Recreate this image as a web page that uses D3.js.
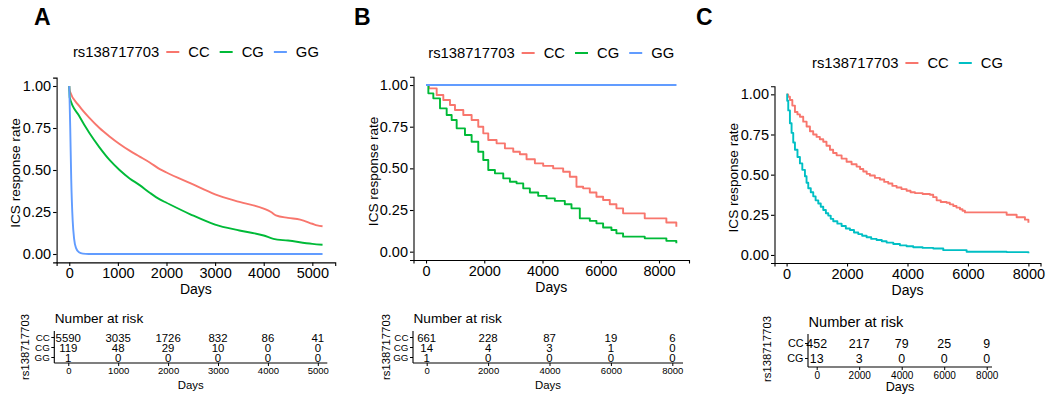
<!DOCTYPE html>
<html><head><meta charset="utf-8">
<script src="https://cdn.jsdelivr.net/npm/d3@7"></script>
<style>body{margin:0;background:#fff} text{font-family:"Liberation Sans",Arial,sans-serif;fill:#000}</style>
</head><body><svg id="c" width="1050" height="400"></svg>
<script>
// ---------------- DATA ----------------
const snpName = "rs138717703";

// Panel A survival curves [days, rate]
const A_CC = [[0,1],[10,0.97],[207,0.88],[414,0.81],[621,0.75],[828,0.70],[1034,0.655],[1241,0.615],[1448,0.58],[1655,0.545],[1862,0.505],[2000,0.485],[2500,0.42],[3000,0.355],[3500,0.31],[4000,0.27],[4150,0.25],[4250,0.23],[4500,0.215],[4750,0.205],[5000,0.18],[5100,0.17],[5210,0.165]];
const A_CG = [[0,1],[10,0.93],[207,0.82],[414,0.72],[621,0.635],[828,0.56],[1034,0.50],[1241,0.45],[1448,0.41],[1655,0.365],[1862,0.325],[2000,0.305],[2500,0.235],[3000,0.175],[3500,0.14],[4000,0.11],[4200,0.09],[4500,0.08],[5000,0.06],[5210,0.055]];
const A_GG = [[0,1],[20,0.75],[40,0.45],[70,0.2],[100,0.09],[140,0.035],[200,0.01],[280,0.002],[400,0],[5210,0]];

// Panel B
const B_CC = [[0,1],[100,0.98],[366,0.94],[594,0.91],[823,0.88],[994,0.85],[1280,0.82],[1566,0.79],[1794,0.75],[1966,0.71],[2137,0.67],[2423,0.65],[2709,0.62],[2995,0.60],[3223,0.585],[3452,0.555],[3738,0.53],[4023,0.515],[4366,0.50],[4709,0.48],[4938,0.45],[5166,0.39],[5395,0.38],[5624,0.355],[5852,0.33],[6081,0.31],[6310,0.285],[6538,0.26],[6767,0.23],[7510,0.20],[8253,0.175],[8595,0.15]];
const B_CG = [[0,1],[80,0.95],[251,0.92],[480,0.86],[709,0.82],[880,0.79],[1052,0.74],[1337,0.70],[1566,0.66],[1794,0.60],[1966,0.55],[2137,0.49],[2366,0.47],[2652,0.44],[2880,0.42],[3109,0.41],[3338,0.38],[3566,0.355],[3852,0.335],[4138,0.32],[4423,0.305],[4766,0.285],[4995,0.26],[5281,0.20],[5624,0.185],[5852,0.17],[6081,0.145],[6367,0.13],[6538,0.11],[6767,0.09],[7510,0.08],[8253,0.065],[8595,0.05]];
const B_GG = [[0,1],[8600,1]];

// Panel C
const C_CC = [[0,1],[50,0.985],[110,0.965],[190,0.93],[276,0.89],[360,0.875],[441,0.86],[550,0.83],[662,0.80],[772,0.77],[880,0.75],[993,0.735],[1100,0.72],[1213,0.705],[1320,0.68],[1434,0.655],[1540,0.635],[1655,0.62],[1820,0.60],[1985,0.58],[2150,0.565],[2316,0.55],[2430,0.535],[2537,0.52],[2650,0.505],[2757,0.495],[2920,0.48],[3088,0.47],[3230,0.455],[3364,0.445],[3500,0.43],[3640,0.42],[3800,0.41],[3971,0.40],[4100,0.39],[4246,0.385],[4500,0.38],[4743,0.375],[4850,0.36],[4964,0.34],[5100,0.33],[5295,0.325],[5400,0.315],[5515,0.305],[5620,0.295],[5736,0.285],[5820,0.275],[5901,0.265],[7059,0.265],[7280,0.25],[7611,0.235],[7886,0.22],[8000,0.20]];
const C_CG = [[0,1],[20,0.96],[55,0.90],[110,0.82],[165,0.76],[220,0.70],[276,0.655],[360,0.61],[441,0.57],[520,0.53],[607,0.49],[660,0.45],[717,0.415],[800,0.39],[882,0.365],[960,0.34],[1048,0.32],[1130,0.30],[1213,0.28],[1300,0.26],[1379,0.245],[1460,0.225],[1544,0.21],[1680,0.195],[1820,0.18],[1960,0.165],[2096,0.155],[2230,0.14],[2371,0.13],[2500,0.12],[2647,0.11],[2800,0.10],[2978,0.093],[3150,0.085],[3309,0.077],[3530,0.068],[3750,0.06],[3970,0.054],[4191,0.048],[4500,0.044],[4853,0.04],[5184,0.03],[5956,0.02],[7280,0.018],[8000,0.01]];

// Axis ticks
const yTicks = [0,0.25,0.5,0.75,1];
const xTicksA = [0,1000,2000,3000,4000,5000];
const xTicksBC = [0,2000,4000,6000,8000];

// Number at risk
const riskA_CC = [5590,3035,1726,832,86,41];
const riskA_CG = [119,48,29,10,0,0];
const riskA_GG = [1,0,0,0,0,0];
const riskB_CC = [661,228,87,19,6];
const riskB_CG = [14,4,3,1,0];
const riskB_GG = [1,0,0,0,0];
const riskC_CC = [452,217,79,25,9];
const riskC_CG = [13,3,0,0,0];

// ---------------- DRAWING ----------------
const RED="#F8766D", GREEN="#00BA38", BLUE="#619CFF", TEAL="#00BFC4";
const svg = d3.select("#c");

function drawPanel(cfg){
  const g = svg.append("g");
  g.append("text").attr("x",cfg.letterX).attr("y",24.5).attr("font-size",23).attr("font-weight","bold").text(cfg.letter);

  const p = cfg.plot;
  const x = d3.scaleLinear().domain([-0.05*cfg.xmax, 1.05*cfg.xmax]).range([p.x0,p.x1]);
  const y = d3.scaleLinear().domain([-0.05,1.05]).range([p.y1,p.y0]);

  const line = d3.line().x(d=>x(d[0])).y(d=>y(d[1])).curve(cfg.curve);
  cfg.series.forEach(s=>{
    g.append("path").datum(s.data).attr("d",line).attr("fill","none")
      .attr("stroke",s.color).attr("stroke-width",1.9).attr("stroke-linejoin","round");
  });

  const xa = g.append("g").attr("transform",`translate(0,${p.y1})`)
    .call(d3.axisBottom(x).tickValues(cfg.xTicks).tickSize(3.5).tickPadding(2).tickFormat(d3.format("d")));
  const ya = g.append("g").attr("transform",`translate(${p.x0},0)`)
    .call(d3.axisLeft(y).tickValues(yTicks).tickSize(3.5).tickPadding(2).tickFormat(d3.format(".2f")));
  [xa,ya].forEach(a=>{
    a.select(".domain").attr("stroke","#000").attr("stroke-width",1.1);
    a.selectAll(".tick line").attr("stroke","#000").attr("stroke-width",1.1);
    a.selectAll(".tick text").attr("font-size",14.5).attr("fill","#111").attr("font-family","Liberation Sans, Arial, sans-serif");
  });
  xa.selectAll(".tick text").attr("dy","0.72em");
  g.append("text").attr("x",(p.x0+p.x1)/2).attr("y",p.y1+27).attr("text-anchor","middle")
    .attr("dominant-baseline","central").attr("font-size",14).text("Days");
  g.append("text").attr("transform",`translate(${cfg.ylabX},${(p.y0+p.y1)/2+3}) rotate(-90)`)
    .attr("text-anchor","middle").attr("dominant-baseline","central").attr("font-size",13.6).text("ICS response rate");

  const lg = g.append("g");
  const t0 = lg.append("text").attr("x",0).attr("dominant-baseline","central").attr("font-size",14.8).text(snpName);
  let cx = t0.node().getComputedTextLength() + 7;
  cfg.series.forEach(s=>{
    lg.append("line").attr("x1",cx).attr("x2",cx+13).attr("y1",0).attr("y2",0).attr("stroke",s.color).attr("stroke-width",2);
    cx += 13 + 9;
    const t = lg.append("text").attr("x",cx).attr("dominant-baseline","central").attr("font-size",14.8).text(s.name);
    cx += t.node().getComputedTextLength() + 10;
  });
  const totalW = cx - 10;
  lg.attr("transform",`translate(${(p.x0+p.x1)/2 - totalW/2},${cfg.legendY})`);

  const r = cfg.risk;
  const rx = d3.scaleLinear().domain(r.dom).range([r.x0,r.x1]);
  const ry = d3.scalePoint().domain(r.rows.map(d=>d.name)).range([r.yTop,r.yBot]);
  const step = (r.yBot-r.yTop)/(r.rows.length-1);
  const axisY = r.yBot + 0.6*step;
  const rg = g.append("g");
  rg.append("text").attr("x",r.x0+0.5).attr("y",r.titleY).attr("dominant-baseline","central").attr("font-size",r.titleSize).text("Number at risk");
  r.rows.forEach(row=>{
    row.values.forEach((v,i)=>{
      rg.append("text").attr("x",rx(r.ticks[i])).attr("y",ry(row.name)+0.5).attr("text-anchor","middle")
        .attr("dominant-baseline","central").attr("font-size",r.numSize).text(v);
    });
  });
  const rxa = rg.append("g").attr("transform",`translate(0,${axisY})`)
    .call(d3.axisBottom(rx).tickValues(r.ticks).tickSize(3).tickPadding(1.5).tickFormat(d3.format("d")));
  const rya = rg.append("g").attr("transform",`translate(${r.x0},0)`)
    .call(d3.axisLeft(ry).tickSize(3).tickPadding(1.5));
  rya.select(".domain").attr("d",`M0,${r.yTop-0.6*step}V${axisY}`);
  rxa.select(".domain").attr("d",`M${r.x0},0H${r.x1}`);
  [rxa,rya].forEach(a=>{
    a.select(".domain").attr("stroke","#000").attr("stroke-width",1.1);
    a.selectAll(".tick line").attr("stroke","#000");
    a.selectAll(".tick text").attr("fill","#111").attr("font-family","Liberation Sans, Arial, sans-serif");
  });
  rxa.selectAll(".tick text").attr("font-size",r.tickSize);
  rya.selectAll(".tick text").attr("font-size",r.rowSize);
  rg.append("text").attr("x",(r.x0+r.x1)/2).attr("y",r.daysY).attr("text-anchor","middle")
    .attr("dominant-baseline","central").attr("font-size",r.daysSize).text("Days");
  rg.append("text").attr("transform",`translate(${r.rsX},${r.rsY}) rotate(-90)`).attr("text-anchor","middle")
    .attr("dominant-baseline","central").attr("font-size",11.3).text(snpName);
}

drawPanel({
  letter:"A", letterX:34, legendY:52, ylabX:15,
  plot:{x0:56.6,x1:335.2,y0:77.6,y1:262.4}, xmax:5210, xTicks:xTicksA,
  curve:d3.curveMonotoneX,
  series:[{name:"CC",data:A_CC,color:RED},{name:"CG",data:A_CG,color:GREEN},{name:"GG",data:A_GG,color:BLUE}],
  risk:{x0:54.3,x1:327.3,dom:[-280,5190],ticks:xTicksA,yTop:337,yBot:357,titleY:318,daysY:385,
    rsX:25,rsY:347,titleSize:13.6,numSize:11.4,tickSize:9.5,rowSize:9.8,daysSize:11.4,
    rows:[{name:"CC",values:riskA_CC},{name:"CG",values:riskA_CG},{name:"GG",values:riskA_GG}]}
});
drawPanel({
  letter:"B", letterX:354, legendY:53, ylabX:373,
  plot:{x0:413.5,x1:689,y0:76.7,y1:260}, xmax:8600, xTicks:xTicksBC,
  curve:d3.curveStepAfter,
  series:[{name:"CC",data:B_CC,color:RED},{name:"CG",data:B_CG,color:GREEN},{name:"GG",data:B_GG,color:BLUE}],
  risk:{x0:413,x1:683,dom:[-446,8348],ticks:xTicksBC,yTop:337,yBot:357,titleY:318,daysY:385,
    rsX:386,rsY:347,titleSize:13.6,numSize:11.4,tickSize:9.5,rowSize:9.8,daysSize:11.4,
    rows:[{name:"CC",values:riskB_CC},{name:"CG",values:riskB_CG},{name:"GG",values:riskB_GG}]}
});
drawPanel({
  letter:"C", letterX:696, legendY:63, ylabX:733,
  plot:{x0:774.5,x1:1040.5,y0:86.3,y1:263}, xmax:8000, xTicks:xTicksBC,
  curve:d3.curveStepAfter,
  series:[{name:"CC",data:C_CC,color:RED},{name:"CG",data:C_CG,color:TEAL}],
  risk:{x0:808,x1:992,dom:[-409,8249],ticks:xTicksBC,yTop:343,yBot:358,titleY:322,daysY:387,
    rsX:767,rsY:349,titleSize:14.6,numSize:12.4,tickSize:10,rowSize:10.8,daysSize:12.6,
    rows:[{name:"CC",values:riskC_CC},{name:"CG",values:riskC_CG}]}
});
</script>
</body></html>
